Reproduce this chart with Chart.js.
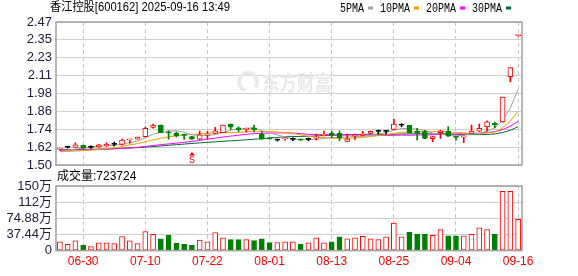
<!DOCTYPE html>
<html>
<head>
<meta charset="utf-8">
<script src="https://cdn.jsdelivr.net/npm/chart.js@4.4.0/dist/chart.umd.min.js"></script>
<style>
html, body { margin: 0; padding: 0; background: #fff; }
#wrap { position: relative; width: 578px; height: 276px; }
canvas { position: absolute; left: 0; top: 0; }
</style>
</head>
<body>
<div id="wrap">
  <canvas id="kline" width="578" height="276"></canvas>
  <canvas id="vol" width="578" height="276"></canvas>
</div>
<script>
// daily candles, 香江控股 600162
var dates = ['06-25','06-26','06-27','06-30','07-01','07-02','07-03','07-04','07-07','07-08',
  '07-09','07-10','07-11','07-14','07-15','07-16','07-17','07-18','07-21','07-22',
  '07-23','07-24','07-25','07-28','07-29','07-30','07-31','08-01','08-04','08-05',
  '08-06','08-07','08-08','08-11','08-12','08-13','08-14','08-15','08-18','08-19',
  '08-20','08-21','08-22','08-25','08-26','08-27','08-28','08-29','09-01','09-02',
  '09-03','09-04','09-05','09-08','09-09','09-10','09-11','09-12','09-15','09-16'];

var openP = [1.608,1.620,1.620,1.633,1.620,1.622,1.630,1.640,1.640,1.670,
  1.676,1.692,1.755,1.771,1.720,1.715,1.705,1.692,1.676,1.703,
  1.715,1.719,1.778,1.752,1.742,1.752,1.710,1.680,1.669,1.677,
  1.674,1.675,1.674,1.682,1.698,1.715,1.715,1.660,1.697,1.700,
  1.715,1.728,1.728,1.742,1.771,1.769,1.730,1.726,1.678,1.719,
  1.730,1.689,1.688,1.715,1.730,1.759,1.782,1.793,2.100,2.378];
var highP = [1.615,1.626,1.651,1.635,1.630,1.640,1.651,1.656,1.676,1.675,
  1.690,1.759,1.778,1.771,1.732,1.725,1.710,1.694,1.730,1.728,
  1.755,1.771,1.778,1.759,1.750,1.771,1.725,1.682,1.676,1.687,
  1.685,1.676,1.683,1.710,1.730,1.730,1.732,1.710,1.710,1.728,
  1.730,1.737,1.735,1.812,1.780,1.770,1.749,1.735,1.695,1.735,
  1.759,1.690,1.697,1.771,1.778,1.800,1.790,1.960,2.160,2.380];
var lowP = [1.600,1.615,1.619,1.612,1.612,1.620,1.625,1.629,1.635,1.647,
  1.675,1.690,1.750,1.719,1.675,1.690,1.674,1.673,1.672,1.674,
  1.713,1.719,1.742,1.725,1.724,1.725,1.674,1.674,1.662,1.669,
  1.665,1.666,1.665,1.669,1.697,1.685,1.664,1.658,1.674,1.698,
  1.713,1.710,1.710,1.740,1.760,1.715,1.670,1.679,1.658,1.680,
  1.694,1.669,1.651,1.713,1.727,1.730,1.752,1.790,2.064,2.372];
var closeP = [1.610,1.620,1.637,1.615,1.620,1.637,1.640,1.640,1.669,1.674,
  1.688,1.749,1.771,1.719,1.717,1.697,1.701,1.675,1.705,1.707,
  1.732,1.771,1.757,1.738,1.748,1.740,1.676,1.677,1.669,1.679,
  1.674,1.668,1.674,1.685,1.710,1.701,1.685,1.678,1.700,1.710,
  1.728,1.728,1.728,1.778,1.771,1.720,1.717,1.681,1.692,1.732,
  1.696,1.687,1.696,1.730,1.749,1.793,1.773,1.960,2.160,2.380];

// 成交量 (手)
var volume = [203000,145000,224000,123000,94000,180000,180000,160000,326000,224000,
  160000,440000,376000,275000,360000,166000,145000,123000,246000,203000,
  420000,297000,253000,253000,253000,232000,275000,188000,188000,203000,
  203000,145000,180000,297000,180000,203000,318000,275000,297000,333000,
  275000,253000,318000,637000,318000,427000,383000,383000,355000,485000,
  340000,340000,340000,376000,528000,485000,383000,1375000,1375000,723724];

var ma5 = [1.590,1.600,1.608,1.615,1.622,1.628,1.632,1.632,1.642,1.652,
  1.662,1.684,1.710,1.720,1.730,1.732,1.722,1.704,1.702,1.700,
  1.706,1.720,1.736,1.742,1.750,1.752,1.734,1.718,1.704,1.690,
  1.676,1.674,1.672,1.674,1.680,1.686,1.688,1.690,1.694,1.694,
  1.700,1.710,1.720,1.736,1.748,1.746,1.744,1.734,1.716,1.708,
  1.704,1.698,1.702,1.710,1.714,1.732,1.750,1.802,1.888,2.014];
var ma10 = [1.590,1.592,1.595,1.598,1.601,1.606,1.611,1.617,1.625,1.637,
  1.645,1.658,1.671,1.681,1.691,1.697,1.703,1.707,1.711,1.715,
  1.719,1.721,1.720,1.722,1.725,1.729,1.727,1.727,1.723,1.720,
  1.714,1.704,1.695,1.689,1.685,1.681,1.681,1.681,1.684,1.687,
  1.693,1.699,1.705,1.715,1.721,1.723,1.727,1.727,1.726,1.728,
  1.725,1.721,1.718,1.713,1.711,1.718,1.724,1.752,1.799,1.864];
var ma20 = [1.600,1.601,1.602,1.603,1.604,1.605,1.607,1.610,1.613,1.616,
  1.620,1.626,1.632,1.638,1.643,1.648,1.654,1.660,1.667,1.676,
  1.682,1.690,1.696,1.702,1.708,1.713,1.715,1.717,1.717,1.718,
  1.717,1.713,1.708,1.706,1.705,1.705,1.704,1.704,1.704,1.704,
  1.704,1.702,1.700,1.702,1.703,1.702,1.704,1.704,1.705,1.708,
  1.709,1.710,1.712,1.714,1.716,1.721,1.726,1.740,1.763,1.796];
var ma30 = [1.603,1.604,1.605,1.606,1.607,1.608,1.609,1.611,1.613,1.615,
  1.618,1.621,1.625,1.629,1.634,1.638,1.642,1.646,1.650,1.654,
  1.657,1.661,1.664,1.667,1.671,1.675,1.679,1.683,1.687,1.691,
  1.693,1.694,1.695,1.697,1.700,1.702,1.704,1.705,1.706,1.707,
  1.709,1.708,1.707,1.709,1.710,1.711,1.712,1.712,1.711,1.712,
  1.711,1.708,1.706,1.706,1.706,1.707,1.711,1.720,1.736,1.760];

var priceTicks = ['1.50','1.62','1.74','1.86','1.98','2.11','2.23','2.35','2.47'];
var volTicks = ['0','37.44万','74.88万','112万','150万'];
var volMax = 1497600;
var xTickLabels = ['06-30','07-10','07-22','08-01','08-13','08-25','09-04','09-16'];
var signalDates = ['07-18'];
var signalText = 'S';

var titleText = '香江控股[600162] 2025-09-16 13:49';
var volTitle = '成交量:723724';
var maNames = ['5PMA','10PMA','20PMA','30PMA'];
var maColors = ['#a0a0a0','#f0a000','#ff00ff','#006a32'];

var UP = '#ff0000', DOWN = '#008000', FLAT = '#000000';
var GRID = '#cfcfcf', BOX = '#a0a0a0';
var AXIS_FONT = "'Liberation Sans', 'Noto Sans CJK SC', sans-serif";

function candleColor(i) {
  if (closeP[i] > openP[i]) return UP;
  if (closeP[i] < openP[i]) return DOWN;
  return FLAT;
}

var colors = dates.map(function (d, i) { return candleColor(i); });
var bodyFill = colors.map(function (c) { return c === UP ? '#ffffff' : c; });
var volColors = dates.map(function (d, i) { return closeP[i] < openP[i] ? DOWN : UP; });
var volFill = volColors.map(function (c) { return c === UP ? '#ffffff' : c; });

function xGridColor(ctx) {
  var d = dates[ctx.index];
  return xTickLabels.indexOf(d) >= 0 ? '#c8c8c8' : 'rgba(0,0,0,0)';
}

function fixWidth(scale) { scale.width = 56; }

var boxPlugin = {
  id: 'box',
  afterDraw: function (chart) {
    var a = chart.chartArea, ctx = chart.ctx;
    ctx.save();
    ctx.strokeStyle = BOX;
    ctx.lineWidth = 1.5;
    ctx.strokeRect(a.left, a.top, a.right - a.left, a.bottom - a.top);
    ctx.restore();
  }
};

var priceText = {
  id: 'priceText',
  beforeDatasetsDraw: function (chart) {
    var ctx = chart.ctx;
    ctx.save();
    // watermark
    ctx.fillStyle = '#e9e9e9';
    ctx.strokeStyle = '#e9e9e9';
    ctx.lineWidth = 4;
    ctx.beginPath();
    ctx.arc(248, 82, 9, Math.PI * 0.6, Math.PI * 2.2);
    ctx.stroke();
    ctx.font = "bold 21px 'Noto Sans CJK SC'";
    ctx.textBaseline = 'middle';
    ctx.fillText('东方财富', 262, 82, 70);
    ctx.restore();
  },
  afterDraw: function (chart) {
    var ctx = chart.ctx;
    ctx.save();
    ctx.textBaseline = 'middle';
    ctx.fillStyle = '#000';
    ctx.font = "12px 'Liberation Sans', 'Noto Sans CJK SC'";
    ctx.fillText(titleText, 50, 8, 180);
    // legend
    var x = 340;
    ctx.font = "12px 'Liberation Mono'";
    maNames.forEach(function (n, i) {
      var w = n.length * 6;
      ctx.fillStyle = '#000';
      ctx.fillText(n, x, 9, w);
      ctx.fillStyle = maColors[i];
      ctx.fillRect(x + w + 4, 6.5, 5, 3);
      x += w + 4 + 5 + 7;
    });
    // signal marks
    var xs = chart.scales.x;
    ctx.fillStyle = UP;
    signalDates.forEach(function (d) {
      var px = Math.round(xs.getPixelForValue(dates.indexOf(d)));
      ctx.beginPath();
      ctx.moveTo(px, 152);
      ctx.lineTo(px - 3, 155.5);
      ctx.lineTo(px + 3, 155.5);
      ctx.closePath();
      ctx.fill();
      ctx.font = "10px 'Liberation Mono'";
      ctx.textAlign = 'center';
      ctx.fillText(signalText, px, 160.5);
    });
    ctx.restore();
  }
};

var volText = {
  id: 'volText',
  afterDraw: function (chart) {
    var ctx = chart.ctx;
    ctx.save();
    ctx.textBaseline = 'middle';
    ctx.fillStyle = '#000';
    ctx.font = "12px 'Liberation Sans', 'Noto Sans CJK SC'";
    ctx.fillText(volTitle, 57, 177);
    ctx.restore();
  }
};

new Chart(document.getElementById('kline'), {
  type: 'bar',
  data: {
    labels: dates,
    datasets: [
      {
        label: 'body',
        data: dates.map(function (d, i) { return [openP[i], closeP[i]]; }),
        backgroundColor: bodyFill,
        borderColor: colors,
        borderWidth: 1,
        borderSkipped: false,
        barThickness: 5,
        minBarLength: 1,
        grouped: false,
        order: 0
      },
      {
        label: 'wick',
        data: dates.map(function (d, i) { return [lowP[i], highP[i]]; }),
        backgroundColor: colors,
        borderWidth: 0,
        barThickness: 1,
        minBarLength: 1,
        grouped: false,
        order: 1
      },
      { type: 'line', label: '5PMA', data: ma5, borderColor: maColors[0], borderWidth: 1, pointRadius: 0, order: 2 },
      { type: 'line', label: '10PMA', data: ma10, borderColor: maColors[1], borderWidth: 1, pointRadius: 0, order: 3 },
      { type: 'line', label: '20PMA', data: ma20, borderColor: maColors[2], borderWidth: 1, pointRadius: 0, order: 4 },
      { type: 'line', label: '30PMA', data: ma30, borderColor: maColors[3], borderWidth: 1, pointRadius: 0, order: 5 }
    ]
  },
  options: {
    responsive: false,
    animation: false,
    layout: { padding: { left: 0, top: 22, right: 56, bottom: 111 } },
    plugins: { legend: { display: false }, tooltip: { enabled: false } },
    scales: {
      x: {
        offset: true,
        grid: { offset: false, drawTicks: false, color: xGridColor, lineWidth: 1 },
        border: { display: false, dash: [4, 3] },
        ticks: { display: false, autoSkip: false }
      },
      y: {
        min: parseFloat(priceTicks[0]),
        max: parseFloat(priceTicks[priceTicks.length - 1]),
        afterBuildTicks: function (s) {
          var lo = parseFloat(priceTicks[0]), hi = parseFloat(priceTicks[priceTicks.length - 1]);
          s.ticks = priceTicks.map(function (t, i) { return { value: lo + i * (hi - lo) / (priceTicks.length - 1) }; });
        },
        afterFit: fixWidth,
        grid: { color: GRID, drawTicks: false },
        border: { display: false },
        ticks: {
          autoSkip: false,
          padding: 4,
          color: '#1c1c3a',
          font: { family: AXIS_FONT, size: 13 },
          callback: function (v, i) { return priceTicks[i]; }
        }
      }
    }
  },
  plugins: [priceText, boxPlugin]
});

new Chart(document.getElementById('vol'), {
  type: 'bar',
  data: {
    labels: dates,
    datasets: [{
      label: '成交量',
      data: volume,
      backgroundColor: volFill,
      borderColor: volColors,
      borderWidth: 1,
      borderSkipped: false,
      barThickness: 5
    }]
  },
  options: {
    responsive: false,
    animation: false,
    layout: { padding: { left: 0, top: 186, right: 56, bottom: 3 } },
    plugins: { legend: { display: false }, tooltip: { enabled: false } },
    scales: {
      x: {
        offset: true,
        grid: { offset: false, drawTicks: false, color: xGridColor, lineWidth: 1 },
        border: { display: false, dash: [4, 3] },
        ticks: {
          autoSkip: false, maxRotation: 0, minRotation: 0, padding: 4,
          color: '#ff0000',
          font: { family: AXIS_FONT, size: 12 },
          callback: function (v, i) { return xTickLabels.indexOf(dates[i]) >= 0 ? dates[i] : ''; }
        }
      },
      y: {
        min: 0,
        max: volMax,
        afterBuildTicks: function (s) {
          s.ticks = volTicks.map(function (t, i) { return { value: i * volMax / (volTicks.length - 1) }; });
        },
        afterFit: fixWidth,
        grid: { color: GRID, drawTicks: false },
        border: { display: false },
        ticks: {
          autoSkip: false,
          padding: 4,
          color: '#1c1c3a',
          font: { family: AXIS_FONT, size: 13 },
          callback: function (v, i) { return volTicks[i]; }
        }
      }
    }
  },
  plugins: [volText, boxPlugin]
});
</script>
</body>
</html>
